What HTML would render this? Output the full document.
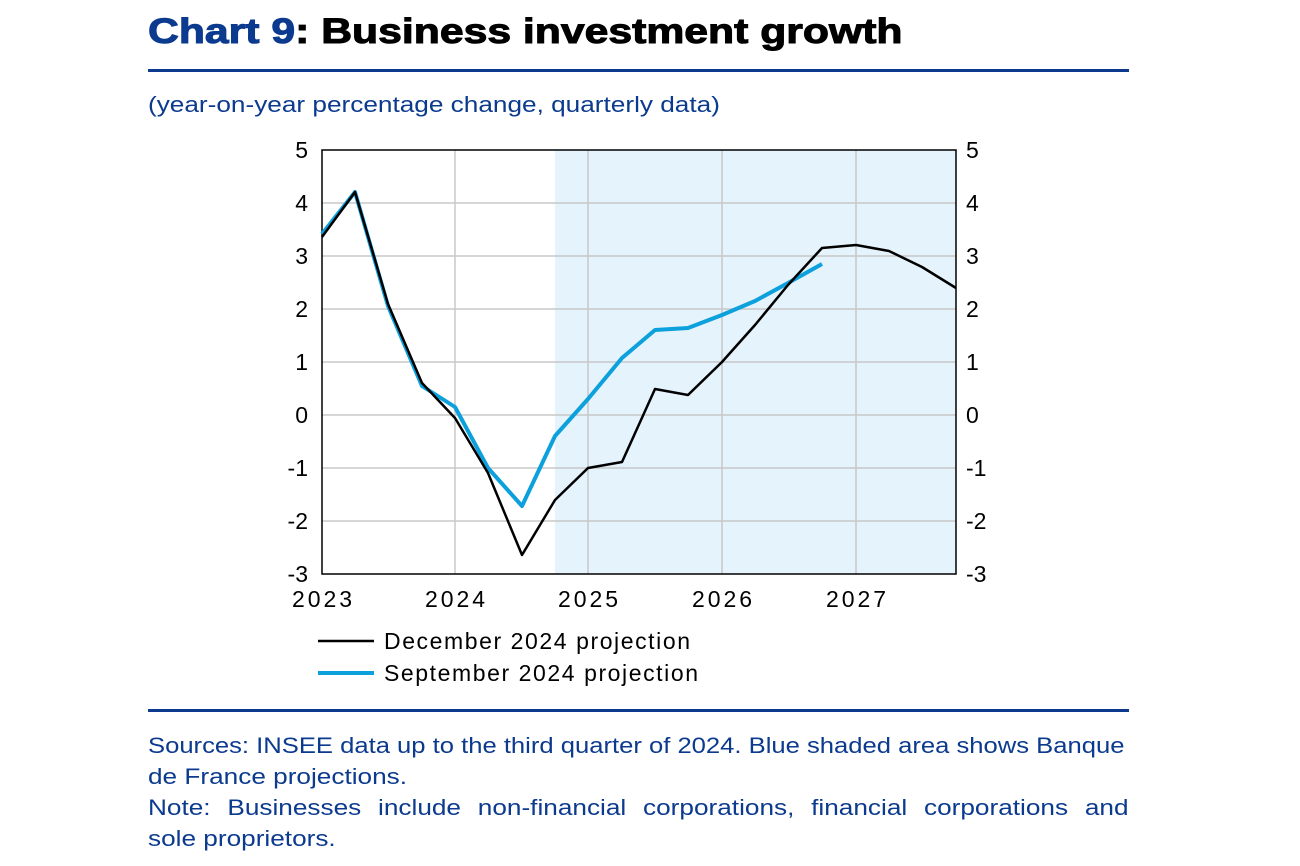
<!DOCTYPE html>
<html><head><meta charset="utf-8"><style>
body{margin:0;background:#fff;width:1300px;height:866px;overflow:hidden;font-family:"Liberation Sans",Arial,sans-serif}
.t{position:absolute;left:148px;top:12px;font-size:35px;font-weight:bold;color:#000;transform:scaleX(1.22);transform-origin:0 0;white-space:nowrap;-webkit-text-stroke:1px #000}
.t span{color:#0b3a8e;-webkit-text-stroke:1px #0b3a8e}
.rule{position:absolute;left:148px;width:981px;height:3px;background:#0b3a8e}
.sub{position:absolute;left:148px;top:92px;font-size:22px;color:#0b3a8e;transform:scaleX(1.19);transform-origin:0 0;white-space:nowrap}
.foot{position:absolute;left:148px;top:730px;width:824px;font-size:22px;line-height:31px;color:#0b3a8e;transform:scaleX(1.19);transform-origin:0 0}
.j{text-align:justify;text-align-last:justify;white-space:nowrap}
.s{display:inline-block;white-space:nowrap;transform:scaleX(0.978);transform-origin:0 0}
</style></head><body>
<div class="t"><span>Chart 9</span>: Business investment growth</div>
<div class="rule" style="top:69px"></div>
<div class="sub">(year-on-year percentage change, quarterly data)</div>
<svg style="position:absolute;left:0;top:0" width="1300" height="866" font-family="Liberation Sans, Arial, sans-serif" font-size="23">
<rect x="555" y="150" width="401" height="424" fill="#e5f3fc"/>
<g stroke="#c8c8c8" stroke-width="1.5">
<line x1="322" y1="203" x2="956" y2="203"/><line x1="322" y1="256" x2="956" y2="256"/>
<line x1="322" y1="309" x2="956" y2="309"/><line x1="322" y1="362" x2="956" y2="362"/>
<line x1="322" y1="415" x2="956" y2="415"/><line x1="322" y1="468" x2="956" y2="468"/>
<line x1="322" y1="521" x2="956" y2="521"/>
<line x1="455" y1="150" x2="455" y2="574"/><line x1="588" y1="150" x2="588" y2="574"/>
<line x1="722" y1="150" x2="722" y2="574"/><line x1="856" y1="150" x2="856" y2="574"/>
</g>
<rect x="322" y="150" width="634" height="424" fill="none" stroke="#000" stroke-width="1.5"/>
<g text-anchor="end">
<text x="308" y="158">5</text><text x="308" y="211">4</text><text x="308" y="264">3</text><text x="308" y="317">2</text><text x="308" y="370">1</text><text x="308" y="423">0</text><text x="308" y="476">-1</text><text x="308" y="529">-2</text><text x="308" y="582">-3</text>
</g>
<g>
<text x="966" y="158">5</text><text x="966" y="211">4</text><text x="966" y="264">3</text><text x="966" y="317">2</text><text x="966" y="370">1</text><text x="966" y="423">0</text><text x="966" y="476">-1</text><text x="966" y="529">-2</text><text x="966" y="582">-3</text>
</g>
<g text-anchor="middle">
<text x="322" y="607" textLength="60">2023</text><text x="455" y="607" textLength="60">2024</text><text x="588" y="607" textLength="60">2025</text><text x="722" y="607" textLength="60">2026</text><text x="856" y="607" textLength="60">2027</text>
</g>
<polyline fill="none" stroke="#0ca0dc" stroke-width="4" stroke-linejoin="round" points="322,234 355,192 388,306 422,386 455,407 488,468 522,506 555,436 588,399 622,358 655,330 688,328 722,315 755,301 788,283 822,264"/>
<polyline fill="none" stroke="#000" stroke-width="2.5" stroke-linejoin="round" points="322,237 355,192 388,304 422,383 455,418 488,473 522,555 555,500 588,468 622,462 655,389 688,395 722,362 755,325 788,285 822,248 856,245 889,251 922,267 956,288"/>
<line x1="318" y1="641" x2="374" y2="641" stroke="#000" stroke-width="2.5"/>
<text x="384" y="649" textLength="306">December 2024 projection</text>
<line x1="318" y1="673" x2="374" y2="673" stroke="#0ca0dc" stroke-width="4"/>
<text x="384" y="681" textLength="314">September 2024 projection</text>
</svg>
<div class="rule" style="top:709px"></div>
<div class="foot"><div><span class="s">Sources: INSEE data up to the third quarter of 2024. Blue shaded area shows Banque</span></div><div>de France projections.</div><div class="j">Note: Businesses include non-financial corporations, financial corporations and</div><div>sole proprietors.</div></div>
</body></html>
